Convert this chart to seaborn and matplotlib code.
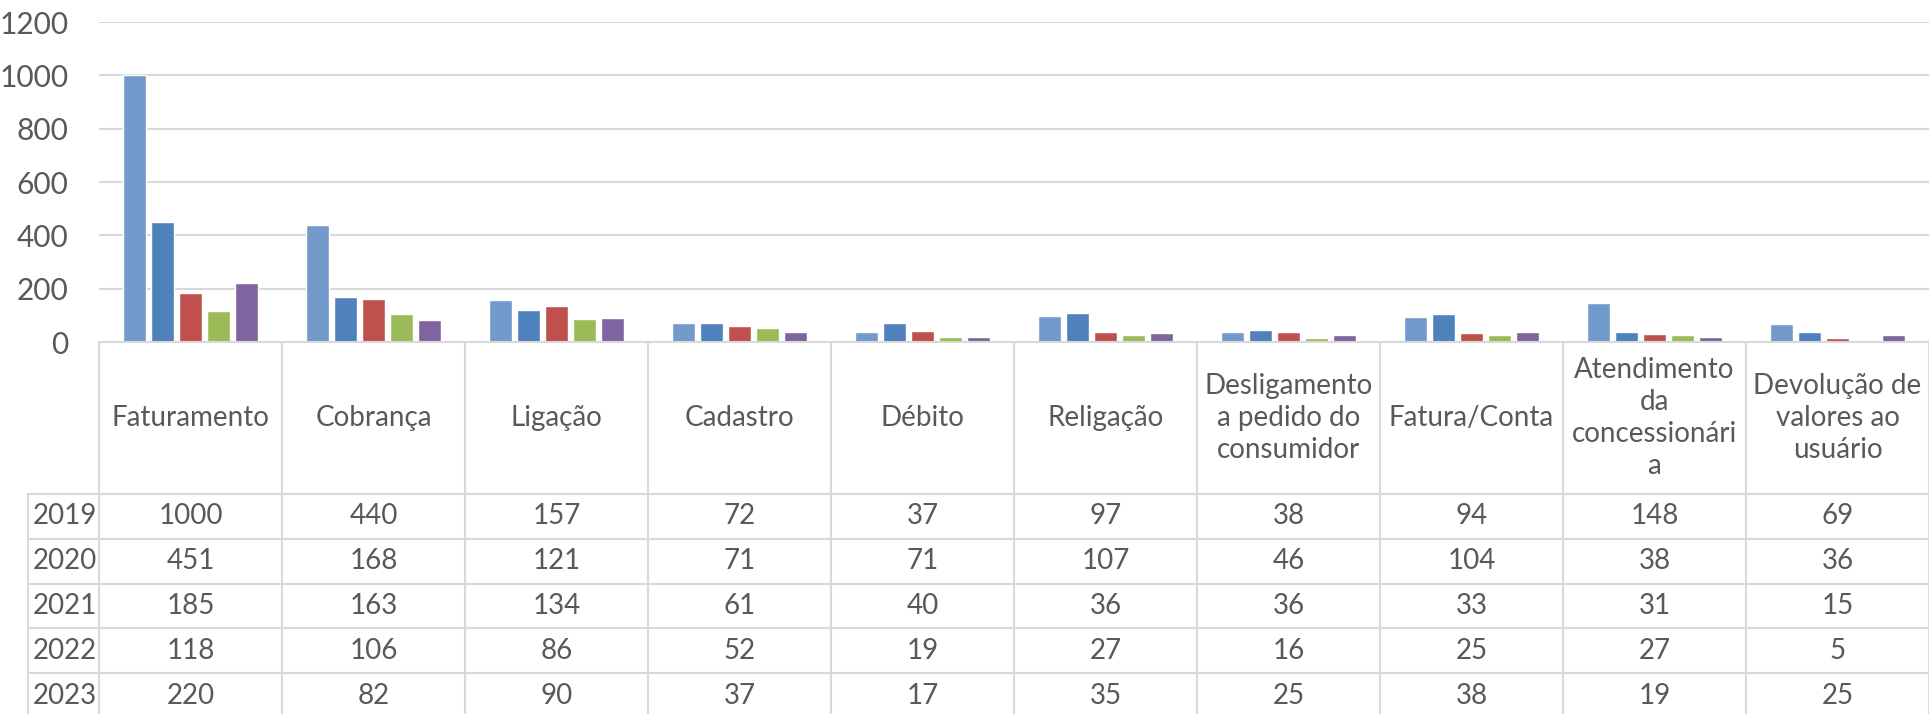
import numpy as np
import pandas as pd
import matplotlib
matplotlib.use("Agg")
import matplotlib.pyplot as plt
import seaborn as sns

# data
categorias = ["Faturamento", "Cobrança", "Ligação", "Cadastro", "Débito", "Religação",
              "Desligamento a pedido do consumidor", "Fatura/Conta",
              "Atendimento da concessionária", "Devolução de valores ao usuário"]
rotulos = ["Faturamento", "Cobrança", "Ligação", "Cadastro", "Débito", "Religação",
           "Desligamento\na pedido do\nconsumidor", "Fatura/Conta",
           "Atendimento\nda\nconcessionári\na", "Devolução de\nvalores ao\nusuário"]
anos = ["2019", "2020", "2021", "2022", "2023"]
v2019 = [1000, 440, 157, 72, 37, 97, 38, 94, 148, 69]
v2020 = [451, 168, 121, 71, 71, 107, 46, 104, 38, 36]
v2021 = [185, 163, 134, 61, 40, 36, 36, 33, 31, 15]
v2022 = [118, 106, 86, 52, 19, 27, 16, 25, 27, 5]
v2023 = [220, 82, 90, 37, 17, 35, 25, 38, 19, 25]
cores = ["#729ACA", "#4F81BD", "#C0504D", "#9BBB59", "#8064A2"]

valores = [v2019, v2020, v2021, v2022, v2023]
df = pd.DataFrame({
    "categoria": np.repeat([categorias], 5, axis=0).ravel(),
    "ano": np.repeat(anos, len(categorias)),
    "valor": np.concatenate(valores),
})

sns.set_style("white")
plt.rcParams["font.family"] = ["Lato", "DejaVu Sans"]
txt = "#595959"
grade = "#D9D9D9"
fs = 20

W, H = 1929, 714
fig = plt.figure(figsize=(W / 100, H / 100), dpi=100)

# main bar chart
x0, xr, y_top, y_zero = 99, 1929, 22, 342
ax = fig.add_axes([x0 / W, 1 - y_zero / H, (xr - x0) / W, (y_zero - y_top) / H])
sns.barplot(data=df, x="categoria", y="valor", hue="ano", hue_order=anos,
            order=categorias, palette=cores, width=0.765, gap=0.2,
            saturation=1, legend=False, ax=ax)
ax.set_xlim(-0.5, 9.5)
ax.set_ylim(0, 1200)
ax.set_yticks(np.arange(0, 1201, 200))
ax.yaxis.grid(True, color=grade, lw=1.5)
ax.set_axisbelow(True)
for s in ["top", "right", "left"]:
    ax.spines[s].set_visible(False)
ax.spines["bottom"].set_color(grade)
ax.spines["bottom"].set_linewidth(1.5)
ax.set_xticks([])
ax.set_xlabel("")
ax.set_ylabel("")
ax.tick_params(axis="y", length=0, pad=22, labelsize=fs + 1.5, labelcolor=txt)

# data table under the chart
cat_px = (xr - x0) / 10
left_col = -0.5 - (x0 - 28) / cat_px
head_h = 152
row_h = 44.8
bottom = H - y_zero
tab = fig.add_axes([28 / W, 0, (W - 28) / W, bottom / H])
tab.set_xlim(left_col, 9.5)
tab.set_ylim(bottom, 0)
tab.axis("off")

for i in range(len(categorias) + 1):
    tab.plot([i - 0.5, i - 0.5], [0, bottom], color=grade, lw=1.5, clip_on=False)
tab.plot([left_col, left_col], [head_h, bottom], color=grade, lw=1.5, clip_on=False)
for k in range(len(anos)):
    yy = head_h + k * row_h
    tab.plot([left_col, 9.5], [yy, yy], color=grade, lw=1.5)

for i, r in enumerate(rotulos):
    tab.text(i, head_h / 2, r, ha="center", va="center", fontsize=fs,
             color=txt, linespacing=1.3)

for k, (ano, vals) in enumerate(zip(anos, valores)):
    yc = head_h + (k + 0.5) * row_h
    tab.text(left_col + 0.025, yc, ano, ha="left", va="center", fontsize=fs, color=txt)
    for i, v in enumerate(vals):
        tab.text(i, yc, str(v), ha="center", va="center", fontsize=fs, color=txt)

fig.savefig("out.png", dpi=100, facecolor="white")
